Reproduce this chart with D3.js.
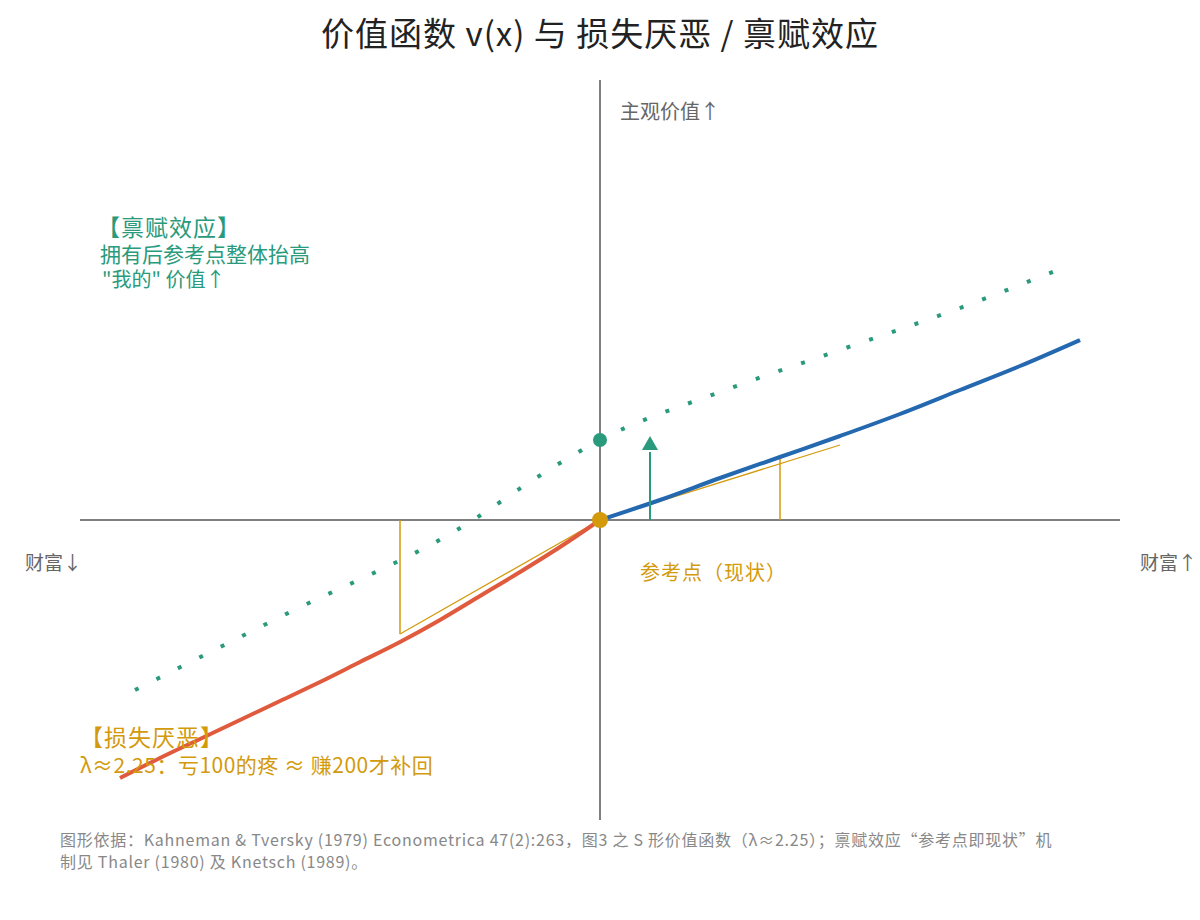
<!DOCTYPE html>
<html><head><meta charset="utf-8">
<script src="https://cdn.jsdelivr.net/npm/d3@7"></script>
<style>body{margin:0;background:#fff}text{font-family:"Noto Sans CJK SC","Noto Sans",sans-serif}</style>
</head><body><svg id="c" width="1200" height="920"></svg>
<script>
const gainX=[0,15,30,45,60,75,90,105,120];
const gainV=[0,5,10.5,15.75,21,26.5,32.5,38.5,45];
const lossX=[0,-10,-20,-30,-40,-50,-60,-70,-80,-90,-100,-110,-120];
const lossV=[0,-6.75,-13,-19,-25,-30.5,-35.5,-40.5,-45.25,-50,-54.75,-59.5,-64.5];
const endowX=[-116.25,-80,-32.5,-16,0,30,60,90,116.25];
const endowV=[-42.5,-24.25,-0.5,10.5,20,32,42.5,53,63.25];
const tanGain=[[0,0],[60,18.75]], tanGainMark=[45,15.75];
const tanLoss=[[0,0],[-50,-28.5]], tanLossMark=[-50,-28.5];

const svg=d3.select("#c");
const x=d3.scaleLinear().domain([-130,130]).range([80,1120]);
const y=d3.scaleLinear().domain([-75,110]).range([820,80]);
const line=d3.line().x(d=>x(d[0])).y(d=>y(d[1])).curve(d3.curveMonotoneX);
const axc="#555";
svg.append("line").attr("x1",x(-130)).attr("x2",x(130)).attr("y1",y(0)).attr("y2",y(0)).attr("stroke",axc).attr("stroke-width",1.5);
svg.append("line").attr("x1",x(0)).attr("x2",x(0)).attr("y1",y(110)).attr("y2",y(-75)).attr("stroke",axc).attr("stroke-width",1.5);

const orange="#d39a0c", teal="#2a9a7c", blue="#2468b0", red="#e05a3d";
svg.append("path").datum(endowX.map((d,i)=>[d,endowV[i]])).attr("d",line).attr("fill","none")
 .attr("stroke",teal).attr("stroke-width",4).attr("stroke-dasharray","4,20");
svg.append("path").datum(tanGain).attr("d",d3.line().x(d=>x(d[0])).y(d=>y(d[1]))).attr("stroke",orange).attr("stroke-width",1.2);
svg.append("line").attr("x1",x(tanGainMark[0])).attr("x2",x(tanGainMark[0])).attr("y1",y(0)).attr("y2",y(tanGainMark[1])).attr("stroke",orange).attr("stroke-width",1.5);
svg.append("path").datum(tanLoss).attr("d",d3.line().x(d=>x(d[0])).y(d=>y(d[1]))).attr("stroke",orange).attr("stroke-width",1.2);
svg.append("line").attr("x1",x(tanLossMark[0])).attr("x2",x(tanLossMark[0])).attr("y1",y(0)).attr("y2",y(tanLossMark[1])).attr("stroke",orange).attr("stroke-width",1.5);
const lossPts=lossX.map((d,i)=>[d,lossV[i]]).reverse();
svg.append("path").datum(lossPts).attr("d",line).attr("fill","none").attr("stroke",red).attr("stroke-width",4);
svg.append("path").datum(gainX.map((d,i)=>[d,gainV[i]])).attr("d",line).attr("fill","none").attr("stroke",blue).attr("stroke-width",4);
svg.append("line").attr("x1",x(12.5)).attr("x2",x(12.5)).attr("y1",y(0)).attr("y2",y(17)).attr("stroke",teal).attr("stroke-width",2);
svg.append("path").attr("d",`M${x(12.5)-8},${y(17.5)}L${x(12.5)+8},${y(17.5)}L${x(12.5)},${y(21)}Z`).attr("fill",teal);
svg.append("circle").attr("cx",x(0)).attr("cy",y(20)).attr("r",7).attr("fill",teal);
svg.append("circle").attr("cx",x(0)).attr("cy",y(0)).attr("r",8).attr("fill",orange);

function t(s,xx,yy,size,col,anchor,ls){svg.append("text").attr("x",xx).attr("y",yy).attr("font-size",size).attr("fill",col).attr("text-anchor",anchor||"start").attr("letter-spacing",ls||0).text(s);}
t("价值函数 v(x) 与 损失厌恶 / 禀赋效应",600,46,33,"#222","middle",1);
t("主观价值↑",620,119,20,"#666");
t("财富↓",25,570,19,"#666");
t("财富↑",1140,570,19,"#666");
t("参考点（现状）",640,580,20,orange,"start",1);
t("【禀赋效应】",97,236,23,teal,"start",1);
t("拥有后参考点整体抬高",100,262,21,teal);
t("\"我的\" 价值↑",102,287,20,teal);
t("【损失厌恶】",80,746,23,orange,"start",1);
t("λ≈2.25：亏100的疼 ≈ 赚200才补回",80,773,21,orange,"start",0.5);
t("图形依据：Kahneman & Tversky (1979) Econometrica 47(2):263，图3 之 S 形价值函数（λ≈2.25）；禀赋效应“参考点即现状”机",60,846,16,"#888","start",0.75);
t("制见 Thaler (1980) 及 Knetsch (1989)。",60,868,16,"#888","start",0.75);
</script></body></html>
